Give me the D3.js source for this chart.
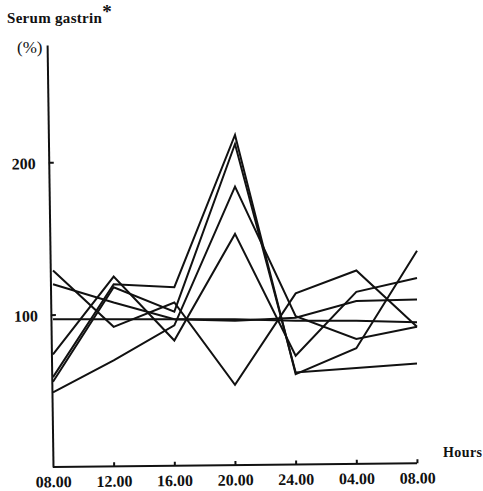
<!DOCTYPE html>
<html lang="en">
<head>
    <meta charset="UTF-8">
    <title>Serum gastrin</title>
    <style>
        body { margin: 0; background: #fff; }
        svg { display: block; }
        svg text { font-family: "Liberation Serif", "DejaVu Serif", serif; fill: #111; }
        svg .axis path, svg .axis line { stroke: #111; stroke-width: 2px; fill: none; }
        svg .axis text { font-size: 16px; font-weight: bold; }
        svg .series { fill: none; stroke: #111; stroke-width: 2px; stroke-linejoin: miter; }
    </style>
</head>
<body>
<div id="chart"></div>
<script src="https://cdnjs.cloudflare.com/ajax/libs/d3/7.8.5/d3.min.js"></script>
<script>
  // clock times across the day (index based, the last 08.00 is the next morning)
  var hours = ['08.00', '12.00', '16.00', '20.00', '24.00', '04.00', '08.00'];
  var yTicks = [100, 200];

  // serum gastrin, % of mean, one array per subject
  var s1 = [74, 125, 83, 153, 73, 115, 124];
  var s2 = [59, 120, 118, 218, 61, 78, 142];
  var s3 = [56, 118, 102, 212, 62, 65, 68];
  var s4 = [49, 70, 93, 184, 99, 84, 92];
  var s5 = [129, 92, 108, 54, 114, 129, 92];
  var s6 = [120, 108, 97, 96, 98, 109, 110];
  var s7 = [97, 97, 97, 97, 96, 96, 95];
  var series = [s1, s2, s3, s4, s5, s6, s7];

  var width = 483,
    height = 491;

  var x = d3.scaleLinear().domain([0, hours.length - 1]).range([53, 417]);
  var y = d3.scaleLinear().domain([0, 277]).range([467, 45]);

  var svg = d3.select('#chart').append('svg')
    .attr('width', width)
    .attr('height', height);

  // titles
  var title = svg.append('text')
    .attr('x', 7)
    .attr('y', 23)
    .style('font-size', '15px')
    .style('font-weight', 'bold')
    .style('letter-spacing', '0.3px')
    .text('Serum gastrin');
  title.append('tspan')
    .attr('dy', -5)
    .style('font-size', '19px')
    .text('*');

  svg.append('text')
    .attr('x', 17)
    .attr('y', 53)
    .style('font-size', '17px')
    .text('(%)');

  svg.append('text')
    .attr('x', 443)
    .attr('y', 457)
    .style('font-size', '14px')
    .style('font-weight', 'bold')
    .style('letter-spacing', '0.4px')
    .text('Hours');

  // y axis, slightly tilted like the scanned original
  var yAxis = svg.append('g')
    .attr('class', 'axis')
    .attr('transform', 'translate(53,0) rotate(-0.8,0,467)')
    .call(d3.axisLeft(y).tickValues(yTicks).tickSize(-5).tickSizeOuter(0).tickPadding(13));
  yAxis.selectAll('text').attr('dy', '0.38em');

  var xAxis = svg.append('g')
    .attr('class', 'axis')
    .attr('transform', 'translate(0,467) rotate(-0.6,53,0)')
    .call(d3.axisBottom(x)
      .tickValues(d3.range(hours.length))
      .tickFormat(function(i) { return hours[i]; })
      .tickSize(-4)
      .tickSizeOuter(0)
      .tickPadding(9));
  xAxis.select('.domain').attr('d', 'M' + x.range()[0] + ',0H' + x.range()[1]);
  xAxis.selectAll('.tick').filter(function(d) { return d === 0; }).select('line').remove();

  var line = d3.line()
    .x(function(d, i) { return x(i); })
    .y(function(d) { return y(d); });

  svg.append('g').selectAll('path')
    .data(series)
    .enter()
    .append('path')
    .attr('class', 'series')
    .attr('d', line);
</script>
</body>
</html>
